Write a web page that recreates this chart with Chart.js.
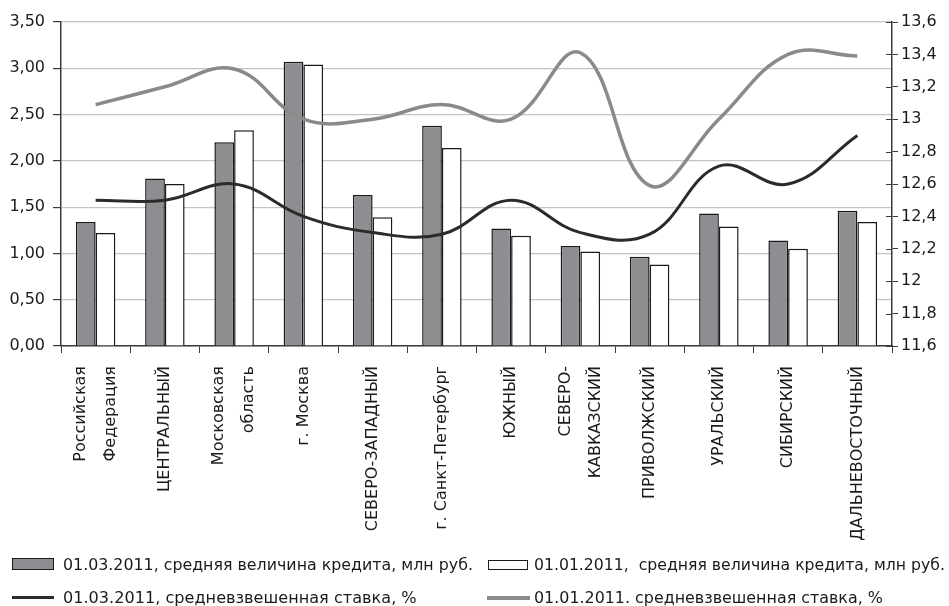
<!DOCTYPE html>
<html>
<head>
<meta charset="utf-8">
<script src="https://cdn.jsdelivr.net/npm/chart.js@4.4.1/dist/chart.umd.min.js"></script>
<style>
  html, body { margin: 0; padding: 0; background: #ffffff; }
  #wrap { position: relative; width: 949px; height: 606px; overflow: hidden; }
  canvas { position: absolute; left: 0; top: 0; }
  .lg { position: absolute; font-family: "DejaVu Sans", sans-serif; font-size: 16px; color: #1a1a1a; white-space: pre; line-height: 18px; }
  .sw { position: absolute; box-sizing: border-box; }
</style>
</head>
<body>
<div id="wrap">
  <canvas id="c" width="949" height="606"></canvas>
  <div class="sw" style="left:12px;top:558px;width:42px;height:12px;background:#8e8e92;border:1.5px solid #1a1a1a;"></div>
  <div class="lg" id="t1" style="left:63px;top:556px;">01.03.2011, средняя величина кредита, млн руб.</div>
  <div class="sw" style="left:488px;top:560px;width:40px;height:10px;background:#ffffff;border:1.5px solid #1a1a1a;"></div>
  <div class="lg" id="t2" style="left:534px;top:556px;">01.01.2011,  средняя величина кредита, млн руб.</div>
  <div class="sw" style="left:12px;top:596px;width:42px;height:3px;background:#2b2b2b;"></div>
  <div class="lg" id="t3" style="left:63px;top:589px;">01.03.2011, средневзвешенная ставка, %</div>
  <div class="sw" style="left:487px;top:596px;width:43px;height:4px;background:#8a8a8a;"></div>
  <div class="lg" id="t4" style="left:534px;top:589px;">01.01.2011. средневзвешенная ставка, %</div>
</div>
<script>
// ---- data ----
const categories = [
  ["Российская", "Федерация"],
  "ЦЕНТРАЛЬНЫЙ",
  ["Московская", "область"],
  "г. Москва",
  "СЕВЕРО-ЗАПАДНЫЙ",
  "г. Санкт-Петербург",
  "ЮЖНЫЙ",
  ["СЕВЕРО-", "КАВКАЗСКИЙ"],
  "ПРИВОЛЖСКИЙ",
  "УРАЛЬСКИЙ",
  "СИБИРСКИЙ",
  "ДАЛЬНЕВОСТОЧНЫЙ"
];
const loanMar = [1.34, 1.81, 2.20, 3.07, 1.63, 2.38, 1.27, 1.08, 0.965, 1.43, 1.14, 1.46];
const loanJan = [1.22, 1.75, 2.33, 3.04, 1.39, 2.14, 1.19, 1.02, 0.88, 1.29, 1.05, 1.34];
const rateMar = [12.50, 12.50, 12.60, 12.40, 12.30, 12.29, 12.50, 12.30, 12.29, 12.71, 12.60, 12.90];
const rateJan = [13.09, 13.20, 13.31, 13.00, 13.00, 13.09, 13.00, 13.41, 12.59, 13.00, 13.40, 13.39];
const seriesNames = [
  "01.03.2011, средняя величина кредита, млн руб.",
  "01.01.2011,  средняя величина кредита, млн руб.",
  "01.03.2011, средневзвешенная ставка, %",
  "01.01.2011. средневзвешенная ставка, %"
];

// single-line labels get an empty leading line so every label is centred on its tick
const tickLabels = categories.map(c => Array.isArray(c) ? c : ["", c]);
const twoLine = categories.map(c => Array.isArray(c));

const FONT = '"DejaVu Sans", sans-serif';
const DARK = '#3a3a3a';

const crossTicks = {
  id: 'crossTicks',
  afterDraw(chart) {
    const s = chart.scales.y1;
    const ctx = chart.ctx;
    ctx.save();
    ctx.strokeStyle = DARK;
    ctx.lineWidth = 1;
    s.ticks.forEach((t, i) => {
      const y = Math.round(s.getPixelForTick(i)) + 0.5;
      ctx.beginPath();
      ctx.moveTo(s.left - 6, y);
      ctx.lineTo(s.left, y);
      ctx.stroke();
    });
    ctx.restore();
  }
};

new Chart(document.getElementById('c'), {
  type: 'bar',
  data: {
    labels: tickLabels,
    datasets: [
      { type: 'bar', label: seriesNames[0], data: loanMar, yAxisID: 'y', order: 2,
        backgroundColor: '#8e8e92', borderColor: '#1a1a1a', borderWidth: 1.5,
        categoryPercentage: 0.57, barPercentage: 1.0 },
      { type: 'bar', label: seriesNames[1], data: loanJan, yAxisID: 'y', order: 2,
        backgroundColor: '#ffffff', borderColor: '#1a1a1a', borderWidth: 1.5,
        categoryPercentage: 0.57, barPercentage: 1.0 },
      { type: 'line', label: seriesNames[2], data: rateMar, yAxisID: 'y1', order: 0,
        borderColor: '#2b2b2b', borderWidth: 3, pointRadius: 0, tension: 0.4, fill: false },
      { type: 'line', label: seriesNames[3], data: rateJan, yAxisID: 'y1', order: 1,
        borderColor: '#8a8a8a', borderWidth: 3.5, pointRadius: 0, tension: 0.4, fill: false }
    ]
  },
  options: {
    responsive: false,
    animation: false,
    layout: { padding: { top: 22, left: 0, right: 0, bottom: 0 } },
    plugins: { legend: { display: false }, tooltip: { enabled: false }, title: { display: false } },
    scales: {
      x: {
        offset: true,
        grid: { display: true, drawOnChartArea: false, offset: true, tickLength: 7, tickColor: DARK, color: DARK },
        border: { display: true, color: DARK, width: 1.5 },
        ticks: {
          autoSkip: false, minRotation: 90, maxRotation: 90, padding: 13, labelOffset: -15,
          color: '#1a1a1a',
          font: (ctx) => ({ family: FONT, size: 16, lineHeight: (ctx.index !== undefined && twoLine[ctx.index]) ? '30px' : '15px' })
        },
        afterFit: (s) => { s.height = 260; }
      },
      y: {
        position: 'left', min: 0, max: 3.5,
        grid: { color: '#c4c4c4', lineWidth: 1.2, tickColor: DARK, tickLength: 8 },
        border: { display: true, color: DARK, width: 1.5 },
        ticks: { stepSize: 0.5, padding: 8, color: '#1a1a1a', font: { family: FONT, size: 16 },
          callback: v => Number(v).toFixed(2).replace('.', ',') },
        afterFit: (s) => { s.width = 61; }
      },
      y1: {
        position: 'right', min: 11.6, max: 13.6,
        grid: { drawOnChartArea: false, tickColor: DARK, tickLength: 6 },
        border: { display: true, color: DARK, width: 1.5 },
        ticks: { stepSize: 0.2, padding: 3, color: '#1a1a1a', font: { family: FONT, size: 16 },
          callback: v => { let s = Number(v).toFixed(1); if (s.endsWith('.0')) s = s.slice(0, -2); return s.replace('.', ','); } },
        afterFit: (s) => { s.width = 57; }
      }
    }
  },
  plugins: [crossTicks]
});

// fit legend text widths to the reference
const targets = { t1: 410, t2: 411, t3: 354, t4: 349 };
Object.keys(targets).forEach(id => {
  const el = document.getElementById(id);
  const w = el.getBoundingClientRect().width;
  if (w > 0) el.style.fontSize = (16 * targets[id] / w).toFixed(2) + 'px';
});
</script>
</body>
</html>
